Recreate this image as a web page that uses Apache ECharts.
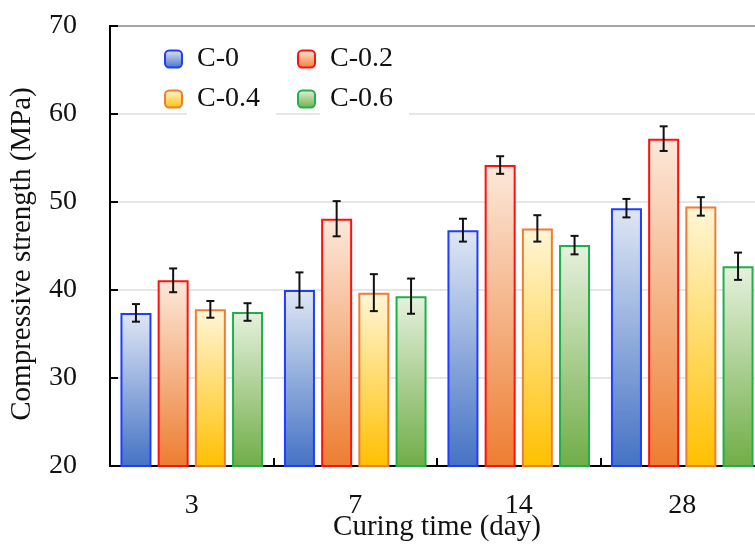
<!DOCTYPE html>
<html>
<head>
<meta charset="utf-8">
<script src="https://cdn.jsdelivr.net/npm/echarts@6/dist/echarts.min.js"></script>
<style>
  html, body { margin: 0; padding: 0; background: #fff; }
  #chart { width: 755px; height: 544px; }
</style>
</head>
<body>
<div id="chart"></div>
<script>
// curing time categories
const categories = ['3', '7', '14', '28'];
const yTicks = [20, 30, 40, 50, 60, 70];

// mean compressive strength (MPa)
const c0 = [37.4, 40.0, 46.8, 49.3];
const c02 = [41.1, 48.1, 54.2, 57.2];
const c04 = [37.8, 39.7, 47.0, 49.5];
const c06 = [37.5, 39.3, 45.1, 42.7];

// error bar half-heights
const c0Err = [1.0, 2.0, 1.3, 1.05];
const c02Err = [1.35, 2.0, 1.0, 1.4];
const c04Err = [0.95, 2.1, 1.5, 1.05];
const c06Err = [1.0, 2.0, 1.05, 1.55];

const serif = '"Times New Roman", "Liberation Serif", serif';
const barWidth = 31;
const barGapPx = 6.2;

let chartDom = document.getElementById('chart');
let myChart = echarts.init(chartDom);

function grad(top, bottom) {
  return new echarts.graphic.LinearGradient(0, 0, 0, 1, [
    { offset: 0, color: top },
    { offset: 1, color: bottom }
  ]);
}

const groups = [
  { name: 'C-0', data: c0, err: c0Err, border: '#1f3cff', top: '#dfe7f5', bottom: '#4472c4' },
  { name: 'C-0.2', data: c02, err: c02Err, border: '#ff1010', top: '#fce8da', bottom: '#ed7d31' },
  { name: 'C-0.4', data: c04, err: c04Err, border: '#ed7d31', top: '#fff6d8', bottom: '#ffc000' },
  { name: 'C-0.6', data: c06, err: c06Err, border: '#1fb04a', top: '#e6f1de', bottom: '#70ad47' }
];

const groupWidth = groups.length * barWidth + (groups.length - 1) * barGapPx;

let series = [];
groups.forEach((g, i) => {
  series.push({
    name: g.name,
    type: 'bar',
    data: g.data,
    barWidth: barWidth,
    barGap: (barGapPx / barWidth * 100) + '%',
    itemStyle: {
      color: grad(g.top, g.bottom),
      borderColor: g.border,
      borderWidth: 2
    },
    z: 2
  });
});

groups.forEach((g, i) => {
  const offset = -groupWidth / 2 + barWidth / 2 + i * (barWidth + barGapPx);
  series.push({
    type: 'custom',
    name: g.name + ' err',
    z: 5,
    silent: true,
    data: g.data.map((v, k) => [k, v - g.err[k], v + g.err[k]]),
    renderItem: function (params, api) {
      const lo = api.coord([api.value(0), api.value(1)]);
      const hi = api.coord([api.value(0), api.value(2)]);
      const x = lo[0] + offset;
      const cap = 4;
      const style = { stroke: '#111', lineWidth: 2 };
      return {
        type: 'group',
        children: [
          { type: 'line', shape: { x1: x, y1: lo[1], x2: x, y2: hi[1] }, style: style },
          { type: 'line', shape: { x1: x - cap, y1: lo[1], x2: x + cap, y2: lo[1] }, style: style },
          { type: 'line', shape: { x1: x - cap, y1: hi[1], x2: x + cap, y2: hi[1] }, style: style }
        ]
      };
    }
  });
});

// text boxes get a white background, the icons do not
const legendText = {
  fontFamily: serif,
  fontSize: 28,
  color: '#111',
  lineHeight: 30,
  backgroundColor: '#fff',
  padding: [4, 16, 4, 10]
};

let option = {
  animation: false,
  grid: {
    left: 110,
    top: 26,
    width: 654,
    height: 440,
    containLabel: false,
    outerBoundsMode: 'none',
    show: true,
    borderColor: '#000',
    borderWidth: 2,
    backgroundColor: 'transparent'
  },
  legend: [
    {
      data: ['C-0', 'C-0.4'],
      orient: 'vertical',
      left: 164,
      top: 40,
      padding: 0,
      itemGap: 2,
      itemWidth: 17,
      itemHeight: 17,
      textStyle: legendText
    },
    {
      data: ['C-0.2', 'C-0.6'],
      orient: 'vertical',
      left: 297,
      top: 40,
      padding: 0,
      itemGap: 2,
      itemWidth: 17,
      itemHeight: 17,
      textStyle: legendText
    }
  ],
  xAxis: {
    type: 'category',
    data: categories,
    name: 'Curing time (day)',
    nameLocation: 'middle',
    nameGap: 47,
    nameMoveOverlap: false,
    nameTextStyle: { fontFamily: serif, fontSize: 29, color: '#111' },
    axisLine: { lineStyle: { color: '#000', width: 2 } },
    axisTick: { show: true, inside: true, length: 8, lineStyle: { color: '#000', width: 2 } },
    axisLabel: { fontFamily: serif, fontSize: 28, color: '#111', margin: 26 },
    splitLine: { show: false }
  },
  yAxis: {
    type: 'value',
    min: yTicks[0],
    max: yTicks[yTicks.length - 1],
    interval: 10,
    name: 'Compressive strength (MPa)',
    nameLocation: 'middle',
    nameGap: 73,
    nameMoveOverlap: false,
    nameTextStyle: { fontFamily: serif, fontSize: 29, color: '#111', padding: [0, 16, 0, 0] },
    axisLine: { show: true, lineStyle: { color: '#000', width: 2 } },
    axisTick: { show: true, inside: true, length: 8, lineStyle: { color: '#000', width: 2 } },
    axisLabel: { fontFamily: serif, fontSize: 28, color: '#111', margin: 33 },
    splitLine: { show: true, lineStyle: { color: '#dedede', width: 1.5 } }
  },
  series: series
};

option && myChart.setOption(option);
</script>
</body>
</html>
